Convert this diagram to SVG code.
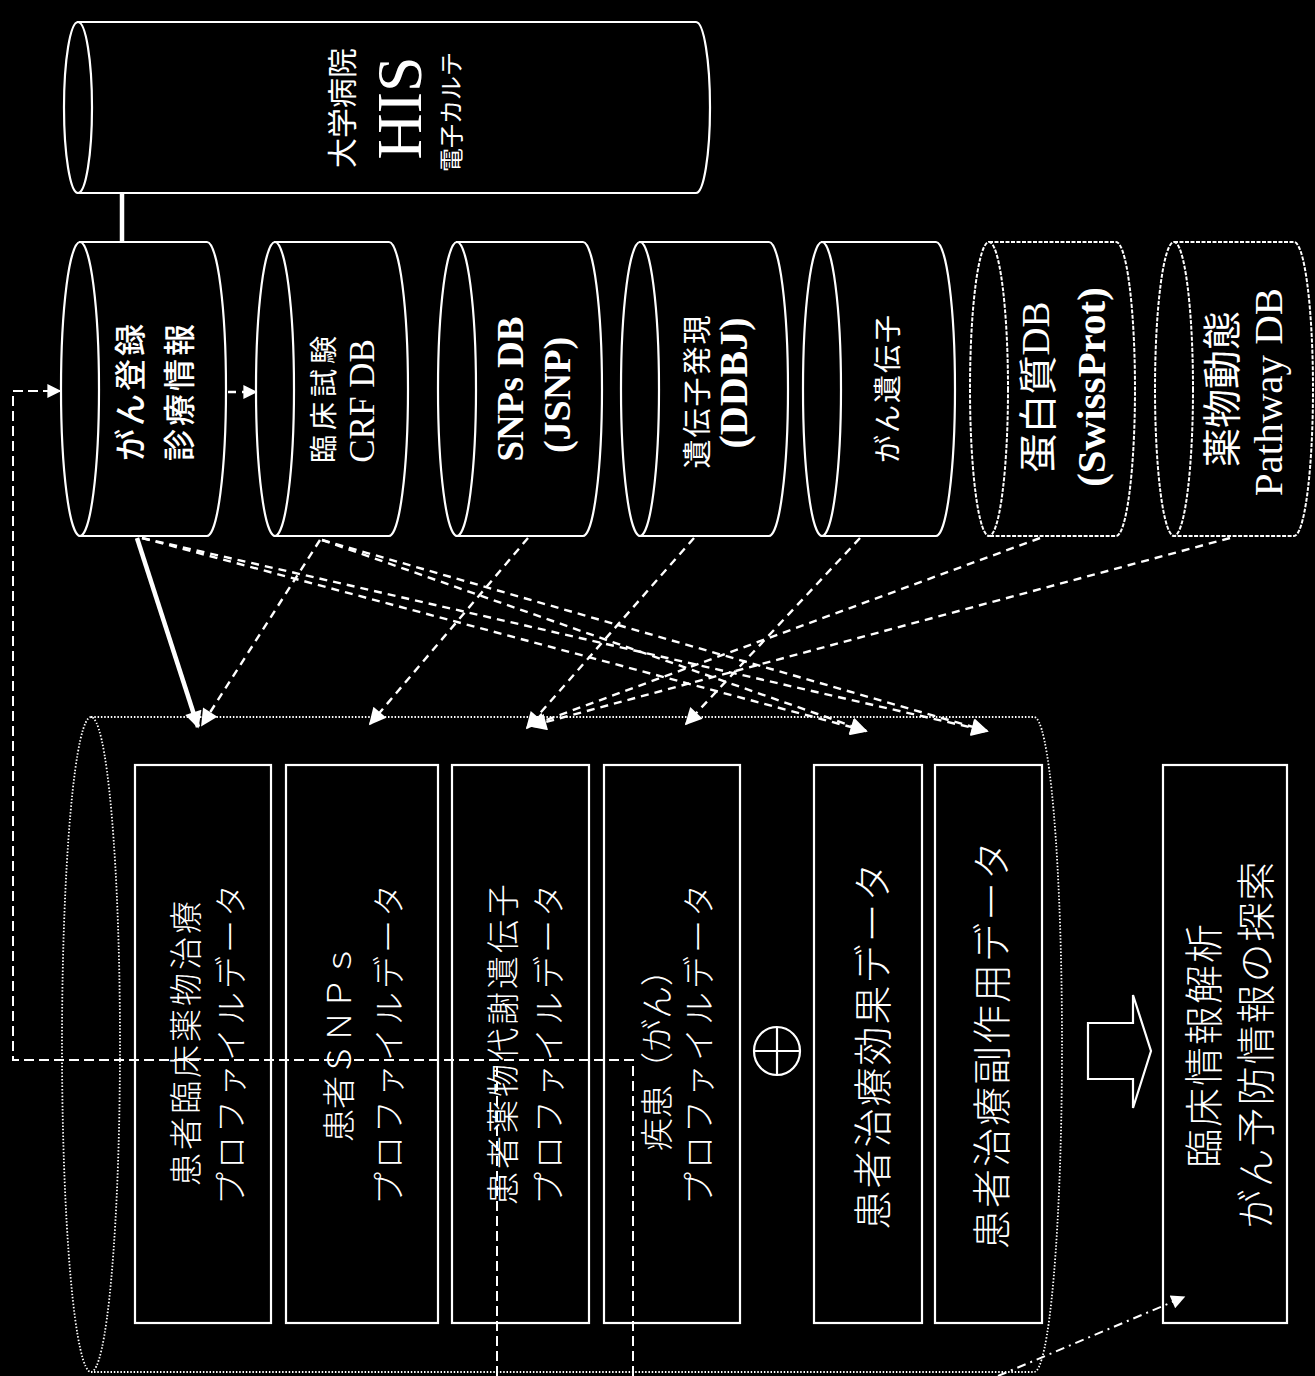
<svg xmlns="http://www.w3.org/2000/svg" width="1315" height="1376" viewBox="0 0 1315 1376">
<style>
.bg{fill:#000}
.cyl{fill:#000;stroke:#fff;stroke-width:2.2}
.cyld{fill:#000;stroke:#fff;stroke-width:2;stroke-dasharray:4 1.5}
.big{fill:none;stroke:#fff;stroke-width:1.8;stroke-dasharray:1.5 1.8}
.box{fill:none;stroke:#fff;stroke-width:2.2}
.t{fill:#fff;text-anchor:middle;dominant-baseline:central}
.jp{font-family:"Noto Sans CJK JP",sans-serif}
.lt{font-weight:300}
.sr{font-family:"Liberation Serif","Noto Sans CJK JP",serif}
.b{font-weight:bold}
.dash{fill:none;stroke:#fff;stroke-width:2.4;stroke-dasharray:8 6}
.fb{fill:none;stroke:#fff;stroke-width:2;stroke-dasharray:10 5}
.dd{fill:none;stroke:#fff;stroke-width:2;stroke-dasharray:9 5 2 5}
.solid{fill:none;stroke:#fff;stroke-width:4.5}
</style>
<defs>
<marker id="ah" viewBox="0 0 10 10" refX="9" refY="5" markerWidth="20" markerHeight="17" markerUnits="userSpaceOnUse" orient="auto"><path d="M0,0 L10,5 L0,10 z" fill="#fff"/></marker>
<marker id="ahs" viewBox="0 0 10 10" refX="9" refY="5" markerWidth="16" markerHeight="14" markerUnits="userSpaceOnUse" orient="auto"><path d="M0,0 L10,5 L0,10 z" fill="#fff"/></marker>
</defs>
<rect class="bg" x="0" y="0" width="1315" height="1376"/>

<g id="his">
<path class="cyl" d="M78,22 L696,22 A14,85.5 0 0 1 696,193 L78,193 Z"/>
<ellipse class="cyl" cx="78" cy="107.5" rx="14" ry="85.5"/>
<text class="t jp" font-size="30" transform="translate(340,108) rotate(-90)">大学病院</text>
<text class="t sr" font-size="64" transform="translate(399,108) rotate(-90)">HIS</text>
<text class="t jp" font-size="24" transform="translate(449,112) rotate(-90)">電子カルテ</text>
</g>

<g id="gan-touroku">
<path class="cyl" d="M80,242 L207,242 A19,147 0 0 1 207,536 L80,536 Z"/>
<ellipse class="cyl" cx="80" cy="389" rx="19" ry="147"/>
<text class="t jp" font-size="32" font-weight="500" letter-spacing="3" transform="translate(128,391) rotate(-90)">がん登録</text>
<text class="t jp" font-size="32" font-weight="500" letter-spacing="3" transform="translate(177,391) rotate(-90)">診療情報</text>
</g>

<g id="rinsho">
<path class="cyl" d="M275,242 L389,242 A19,147 0 0 1 389,536 L275,536 Z"/>
<ellipse class="cyl" cx="275" cy="389" rx="19" ry="147"/>
<text class="t jp" font-size="28" letter-spacing="5" transform="translate(322,397) rotate(-90)">臨床試験</text>
<text class="t sr" font-size="35" transform="translate(362,401) rotate(-90)">CRF DB</text>
</g>

<g id="snps">
<path class="cyl" d="M457,242 L583,242 A19,147 0 0 1 583,536 L457,536 Z"/>
<ellipse class="cyl" cx="457" cy="389" rx="19" ry="147"/>
<text class="t sr b" font-size="37" transform="translate(510,389) rotate(-90)">SNPs DB</text>
<text class="t sr b" font-size="38" transform="translate(557,395) rotate(-90)">(JSNP)</text>
</g>

<g id="idenshi-hatsugen">
<path class="cyl" d="M640,242 L769,242 A19,147 0 0 1 769,536 L640,536 Z"/>
<ellipse class="cyl" cx="640" cy="389" rx="19" ry="147"/>
<text class="t jp" font-size="29" letter-spacing="2" transform="translate(695,391) rotate(-90)">遺伝子発現</text>
<text class="t sr b" font-size="40" transform="translate(733,383) rotate(-90)">(DDBJ)</text>
</g>

<g id="gan-idenshi">
<path class="cyl" d="M822,242 L936,242 A19,147 0 0 1 936,536 L822,536 Z"/>
<ellipse class="cyl" cx="822" cy="389" rx="19" ry="147"/>
<text class="t jp" font-size="28" letter-spacing="2" transform="translate(886,388) rotate(-90)">がん遺伝子</text>
</g>

<g id="tanpakushitsu">
<path class="cyld" d="M989,242 L1116,242 A19,147 0 0 1 1116,536 L989,536 Z"/>
<ellipse class="cyld" cx="989" cy="389" rx="19" ry="147"/>
<text class="t jp" font-size="39" transform="translate(1035,387) rotate(-90)">蛋白質<tspan class="sr">DB</tspan></text>
<text class="t sr b" font-size="41" transform="translate(1091,387) rotate(-90)">(SwissProt)</text>
</g>

<g id="yakubutsu">
<path class="cyld" d="M1174,242 L1294,242 A19,147 0 0 1 1294,536 L1174,536 Z"/>
<ellipse class="cyld" cx="1174" cy="389" rx="19" ry="147"/>
<text class="t jp" font-size="39" transform="translate(1219,389) rotate(-90)">薬物動態</text>
<text class="t sr" font-size="41" transform="translate(1268,392) rotate(-90)">Pathway DB</text>
</g>

<g id="patient-db">
<path class="big" d="M91,717 L1034,717 A28,327.5 0 0 1 1034,1372 L91,1372"/>
<ellipse class="big" cx="91" cy="1044.5" rx="29" ry="327.5"/>
</g>

<g id="box1">
<rect class="box" x="135" y="765" width="136" height="558"/>
<text class="t jp lt" font-size="33" letter-spacing="3" transform="translate(184,1042) rotate(-90)">患者臨床薬物治療</text>
<text class="t jp lt" font-size="33" letter-spacing="3" transform="translate(229,1043) rotate(-90)">プロファイルデータ</text>
</g>
<g id="box2">
<rect class="box" x="286" y="765" width="152" height="558"/>
<text class="t jp lt" font-size="33" transform="translate(337,1043) rotate(-90)">患者ＳＮＰｓ</text>
<text class="t jp lt" font-size="33" letter-spacing="3" transform="translate(387,1043) rotate(-90)">プロファイルデータ</text>
</g>
<g id="box3">
<rect class="box" x="452" y="765" width="137" height="558"/>
<text class="t jp lt" font-size="33" letter-spacing="3" transform="translate(501,1043) rotate(-90)">患者薬物代謝遺伝子</text>
<text class="t jp lt" font-size="33" letter-spacing="3" transform="translate(547,1043) rotate(-90)">プロファイルデータ</text>
</g>
<g id="box4">
<rect class="box" x="604" y="765" width="136" height="558"/>
<text class="t jp lt" font-size="33" transform="translate(655,1052) rotate(-90)">疾患（がん）</text>
<text class="t jp lt" font-size="33" letter-spacing="3" transform="translate(697,1043) rotate(-90)">プロファイルデータ</text>
</g>
<g id="plus">
<ellipse fill="none" stroke="#fff" stroke-width="2.2" cx="777" cy="1051" rx="23" ry="24"/>
<line x1="754" y1="1051" x2="800" y2="1051" stroke="#fff" stroke-width="2.2"/>
<line x1="777" y1="1027" x2="777" y2="1075" stroke="#fff" stroke-width="2.2"/>
</g>
<g id="box5">
<rect class="box" x="814" y="765" width="108" height="558"/>
<text class="t jp lt" font-size="39" letter-spacing="2" transform="translate(870,1045) rotate(-90)">患者治療効果データ</text>
</g>
<g id="box6">
<rect class="box" x="935" y="765" width="107" height="558"/>
<text class="t jp lt" font-size="39" letter-spacing="2" transform="translate(989,1044) rotate(-90)">患者治療副作用データ</text>
</g>
<g id="bigarrow">
<polygon fill="#000" stroke="#fff" stroke-width="2.2" points="1088,1023 1133,1023 1133,995 1151,1051 1133,1108 1133,1079 1088,1079"/>
</g>
<g id="box7">
<rect class="box" x="1163" y="765" width="124" height="558"/>
<text class="t jp lt" font-size="39" letter-spacing="2" transform="translate(1201,1045) rotate(-90)">臨床情報解析</text>
<text class="t jp lt" font-size="39" letter-spacing="2" transform="translate(1253,1044) rotate(-90)">がん予防情報の探索</text>
</g>

<g id="connectors">
<line class="solid" x1="122" y1="193" x2="122" y2="242"/>
<line class="dash" x1="228" y1="392" x2="256" y2="392" marker-end="url(#ahs)"/>
<line class="solid" x1="137" y1="538" x2="198" y2="727" marker-end="url(#ah)"/>
<line class="dash" x1="320" y1="540" x2="202" y2="725" marker-end="url(#ah)"/>
<line class="dash" x1="528" y1="538" x2="370" y2="724" marker-end="url(#ah)"/>
<line class="dash" x1="694" y1="538" x2="527" y2="728" marker-end="url(#ah)"/>
<line class="dash" x1="860" y1="538" x2="686" y2="724" marker-end="url(#ah)"/>
<line class="dash" x1="1040" y1="538" x2="530" y2="726" marker-end="url(#ah)"/>
<line class="dash" x1="1230" y1="538" x2="531" y2="726" marker-end="url(#ah)"/>
<line class="dash" x1="142" y1="538" x2="866" y2="731" marker-end="url(#ah)"/>
<line class="dash" x1="142" y1="538" x2="987" y2="731" marker-end="url(#ah)"/>
<line class="dash" x1="322" y1="540" x2="866" y2="731" marker-end="url(#ah)"/>
<line class="dash" x1="322" y1="540" x2="987" y2="731" marker-end="url(#ah)"/>
<path class="fb" d="M633,1376 V1060 H13 V391 H60" marker-end="url(#ahs)"/>
<path class="fb" d="M497,1376 V1060"/>
<path class="dd" d="M998,1376 L1184,1297" marker-end="url(#ahs)"/>
</g>
</svg>
